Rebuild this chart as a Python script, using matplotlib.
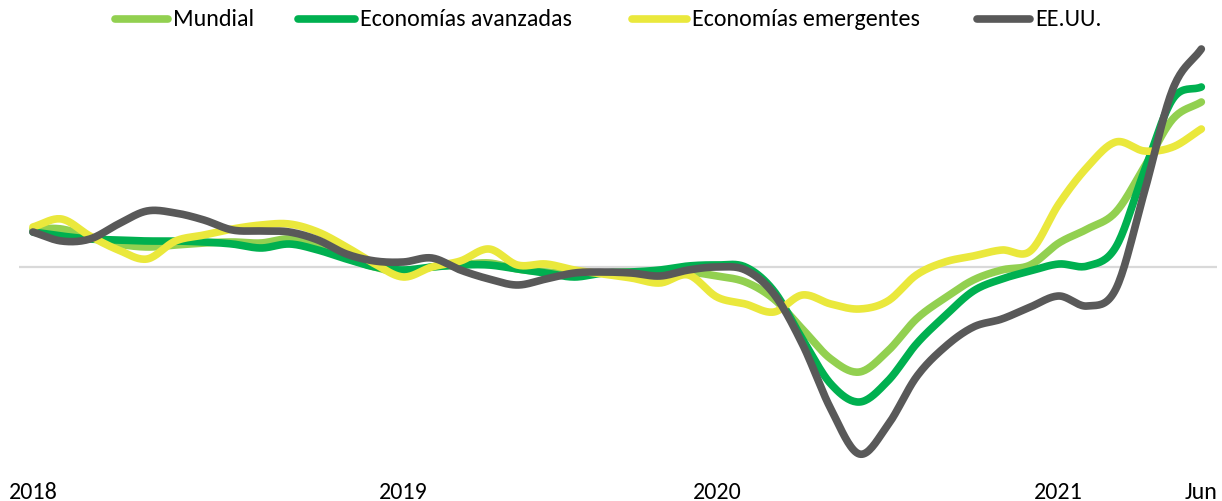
import numpy as np
import matplotlib
matplotlib.use("Agg")
import matplotlib.pyplot as plt
from matplotlib import font_manager
from matplotlib.lines import Line2D

# ---------------- data (monthly, Jan 2018 - Jun 2021) ----------------
mundial = [3.8, 3.8, 3.0, 2.3, 2.0, 2.2, 2.4, 2.5, 2.4, 2.8, 2.1, 0.9,
           0.0, -0.6, 0.0, 0.2, 0.4, -0.2, -0.5, -0.7, -0.6, -0.5, -0.5, -0.5,
           -0.9, -1.5, -3.2, -6.2, -9.2, -10.5, -8.4, -5.2, -3.1, -1.3, -0.3, 0.2,
           2.4, 3.8, 5.5, 10.0, 14.8, 16.5]
avanzadas = [3.5, 3.1, 2.8, 2.7, 2.6, 2.6, 2.5, 2.3, 1.9, 2.3, 1.7, 0.8,
             0.0, -0.3, 0.0, 0.2, 0.2, -0.2, -0.6, -1.0, -0.6, -0.5, -0.3, 0.1,
             0.2, 0.0, -2.4, -7.2, -11.7, -13.5, -11.4, -7.7, -4.9, -2.4, -1.2, -0.4,
             0.3, 0.1, 2.0, 9.6, 16.8, 18.0]
emergentes = [4.0, 4.8, 3.1, 1.7, 0.8, 2.6, 3.2, 3.8, 4.2, 4.3, 3.5, 2.0,
              0.3, -1.0, 0.0, 0.6, 1.8, 0.2, 0.3, -0.3, -0.7, -1.1, -1.6, -0.8,
              -3.0, -3.7, -4.5, -2.8, -3.7, -4.2, -3.4, -0.8, 0.5, 1.1, 1.7, 1.6,
              6.3, 10.0, 12.5, 11.6, 12.0, 13.8]
eeuu = [3.5, 2.6, 2.8, 4.3, 5.6, 5.4, 4.7, 3.7, 3.6, 3.5, 2.7, 1.3,
        0.6, 0.5, 0.9, -0.3, -1.2, -1.8, -1.2, -0.6, -0.5, -0.6, -0.9, -0.3,
        0.0, -0.3, -2.7, -7.7, -14.2, -18.7, -15.8, -11.0, -8.0, -6.0, -5.2, -4.0,
        -2.9, -3.9, -2.2, 7.5, 17.8, 21.8]

series_names = ["Mundial", "Economías avanzadas", "Economías emergentes", "EE.UU."]
series_colors = ["#92D050", "#00B050", "#EAE83C", "#595959"]
tick_positions = [0, 13, 24, 36, 41]
tick_labels = ["2018", "2019", "2020", "2021", "Jun"]

# ---------------- font ----------------
names = {f.name for f in font_manager.fontManager.ttflist}
for cand in ["Carlito", "Liberation Sans Narrow", "Open Sans", "DejaVu Sans"]:
    if cand in names:
        FONT = cand
        break
plt.rcParams["font.family"] = [FONT, "DejaVu Sans"]
FS = 17.3

W, H = 1222, 502
fig = plt.figure(figsize=(W / 100, H / 100), dpi=100)

# axes spans px x 19..1217, y 40..470 (top-origin)
ax_l, ax_r, ax_t, ax_b = 19, 1217, 40, 470
ax = fig.add_axes([ax_l / W, (H - ax_b) / H, (ax_r - ax_l) / W, (ax_b - ax_t) / H])
ax.set_xlim(-0.49, 41.55)
ax.set_ylim(-20.2, 22.8)
for s in ax.spines.values():
    s.set_visible(False)
ax.set_yticks([])
ax.axhline(0, color="#D9D9D9", lw=1.6, zorder=1)


def smooth(x, y, n=20):
    """Catmull-Rom rendering of the monthly points (like Excel smoothed lines)."""
    x = np.asarray(x, float)
    y = np.asarray(y, float)
    P = np.column_stack([x, y])
    P = np.vstack([P[0] - (P[1] - P[0]), P, P[-1] + (P[-1] - P[-2])])
    out = []
    t = np.linspace(0, 1, n, endpoint=False)[:, None]
    for i in range(1, len(P) - 2):
        p0, p1, p2, p3 = P[i - 1], P[i], P[i + 1], P[i + 2]
        seg = 0.5 * ((2 * p1) + (-p0 + p2) * t + (2 * p0 - 5 * p1 + 4 * p2 - p3) * t ** 2
                     + (-p0 + 3 * p1 - 3 * p2 + p3) * t ** 3)
        out.append(seg)
    out.append(P[-2][None, :])
    out = np.vstack(out)
    return out[:, 0], out[:, 1]


LW = 5.5
xs = np.arange(len(mundial))
for k, (vals, col) in enumerate(zip([mundial, avanzadas, emergentes, eeuu], series_colors)):
    sx, sy = smooth(xs, vals)
    ax.plot(sx, sy, color=col, lw=LW, solid_capstyle="round", solid_joinstyle="round",
            zorder=2 + k, clip_on=False)

ax.set_xticks(tick_positions)
ax.set_xticklabels(tick_labels, fontsize=FS, color="#000000")
ax.tick_params(axis="x", length=0, pad=9)

# ---------------- legend (manual) ----------------
leg_y = 1 - 20 / H
handle_x = [(115, 168), (298, 355), (632, 687), (977, 1030)]
for (x0, x1), name, col in zip(handle_x, series_names, series_colors):
    fig.add_artist(Line2D([x0 / W, x1 / W], [leg_y, leg_y], color=col, lw=LW,
                          solid_capstyle="round", transform=fig.transFigure))
    fig.text((x1 + 5) / W, leg_y, name, fontsize=FS, va="center", ha="left", color="#000000")

fig.savefig("out.png", dpi=100)
